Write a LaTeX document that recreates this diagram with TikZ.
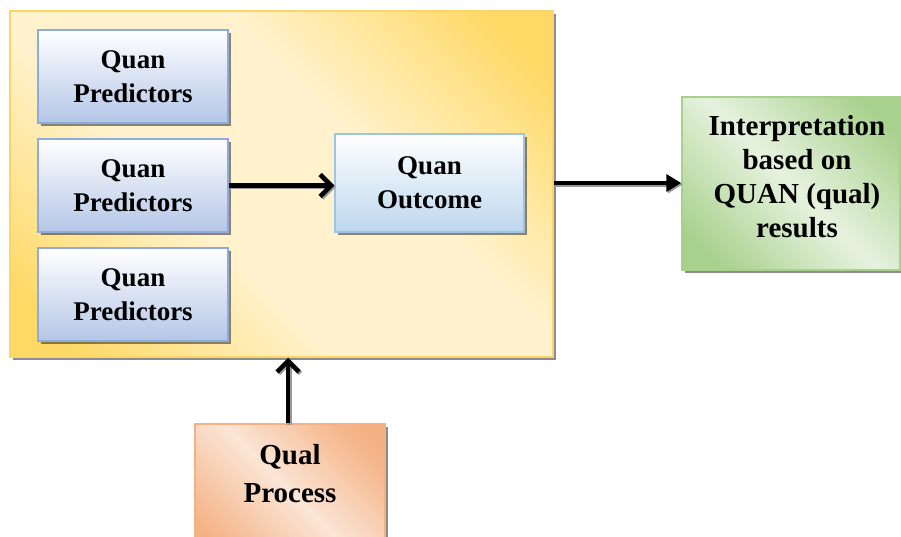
\documentclass[tikz,border=0pt]{standalone}
\usepackage{fontspec}
\setmainfont{Liberation Serif}
\usetikzlibrary{arrows.meta,shadows}
\definecolor{ydark}{HTML}{FFD966}
\definecolor{ylight}{HTML}{FFF2CC}
\definecolor{yline}{HTML}{FBD46A}
\definecolor{gdark}{HTML}{A9D18E}
\definecolor{glight}{HTML}{E6F2DE}
\definecolor{odark}{HTML}{F4B183}
\definecolor{olight}{HTML}{FBE5D6}
\definecolor{predfill}{HTML}{B4C6E7}
\definecolor{predline}{HTML}{8FAADC}
\definecolor{outfill}{HTML}{BDD7EE}
\definecolor{outline}{HTML}{9DC3E6}
\pgfdeclarehorizontalshading{yband}{100bp}{color(0bp)=(ydark);color(20bp)=(ydark);color(40bp)=(ylight);color(60bp)=(ylight);color(80bp)=(ydark);color(100bp)=(ydark)}
\pgfdeclarehorizontalshading{gband}{100bp}{color(0bp)=(gdark);color(22bp)=(gdark);color(50bp)=(glight);color(78bp)=(gdark);color(100bp)=(gdark)}
\pgfdeclarehorizontalshading{oband}{100bp}{color(0bp)=(odark);color(22bp)=(odark);color(50bp)=(olight);color(78bp)=(odark);color(100bp)=(odark)}
\tikzset{
  x=1pt, y=1pt,
  box/.style={rectangle, line width=1.5pt, inner sep=0pt, align=center,
    font=\fontsize{27}{34}\selectfont\bfseries,
    drop shadow={shadow xshift=3pt, shadow yshift=-3pt, opacity=0.45, fill=black}},
  predbox/.style={box, draw=predline, top color=white, bottom color=predfill,
    minimum width=190pt, minimum height=93pt},
  outbox/.style={box, draw=outline, top color=white, bottom color=outfill,
    minimum width=189pt, minimum height=98pt},
  bigbox/.style={box, draw=yline, shading=yband, shading angle=45,
    minimum width=543pt, minimum height=346pt},
  interpbox/.style={box, draw=gdark, shading=gband, shading angle=45,
    minimum width=218pt, minimum height=173pt},
  qualbox/.style={box, draw=odark, shading=oband, shading angle=45,
    minimum width=190pt, minimum height=136pt},
  bigtext/.style={inner sep=0pt, align=center, font=\fontsize{29}{34}\selectfont\bfseries},
  qualtextstyle/.style={inner sep=0pt, align=center, font=\fontsize{29}{38}\selectfont\bfseries},
  arr/.style={line width=4.5pt, draw=black,
    preaction={draw=black!40, line width=4.5pt, transform canvas={shift={(1.5pt,-1.5pt)}}}},
  openhead/.style={arr, -{Straight Barb[length=11pt,width=22pt]}},
  filledhead/.style={arr, -{Triangle[length=15pt,width=17pt]}}
}
\begin{document}
\begin{tikzpicture}
\clip (0,0) rectangle (901,536);
\useasboundingbox (0,0) rectangle (901,536);
\node[bigbox] (big) at (281.5,352) {};
\node[predbox] (p1) at (133,459.5) {Quan\\Predictors};
\node[predbox] (p2) at (133,350.5) {Quan\\Predictors};
\node[predbox] (p3) at (133,241.5) {Quan\\Predictors};
\node[outbox] (out) at (429.5,353) {Quan\\Outcome};
\node[interpbox] (interp) at (791,352.5) {};
\node[bigtext] (interptext) at (797,359) {Interpretation\\based on\\QUAN (qual)\\results};
\node[qualbox] (qual) at (290,44) {};
\node[qualtextstyle] (qualtext) at (290,62) {Qual\\Process};
\draw[openhead] (p2.east) -- (p2.east -| out.west);
\draw[filledhead] (big.east |- 0,353) -- (interp.west |- 0,353);
\draw[openhead] (qual.north -| 288,0) -- (big.south -| 288,0);
\end{tikzpicture}
\end{document}
